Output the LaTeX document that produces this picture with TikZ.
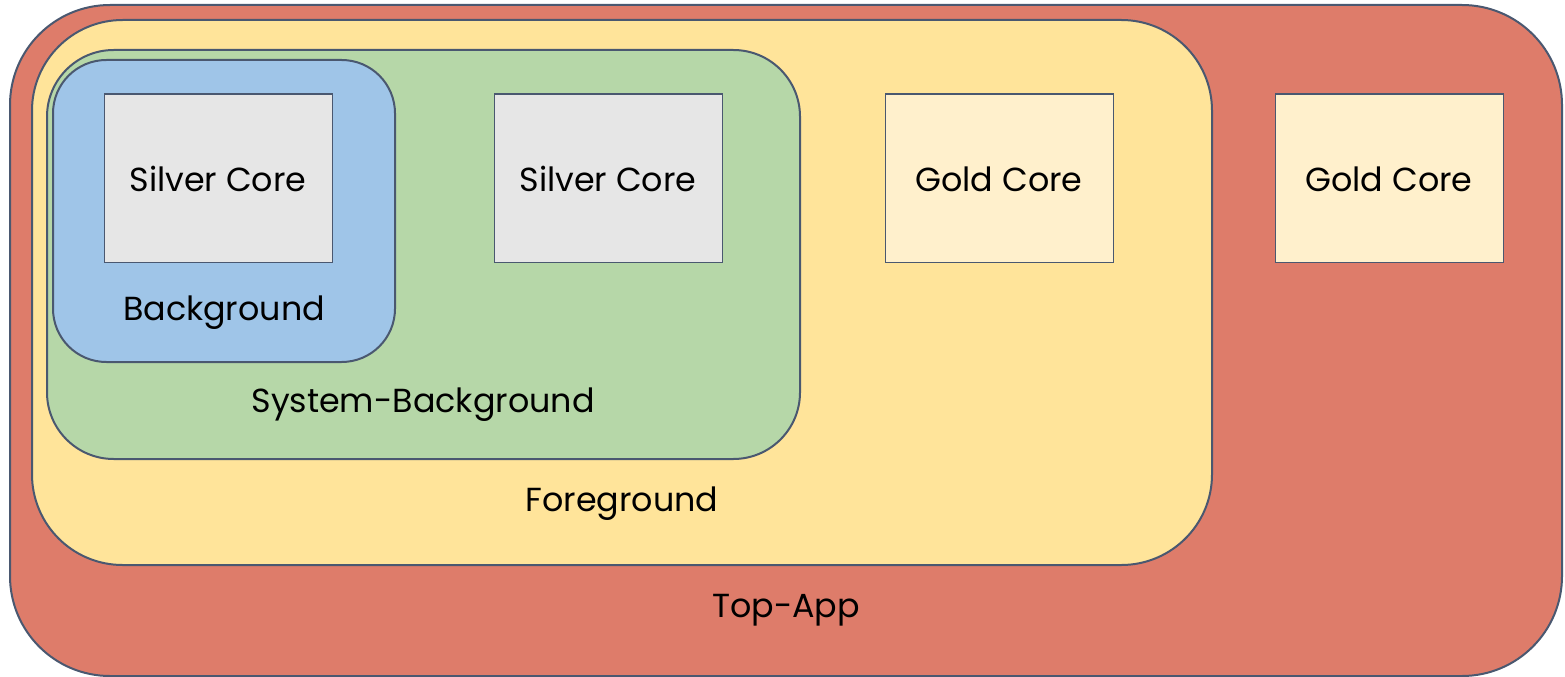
\documentclass[tikz,border=0pt]{standalone}
\usepackage{fontspec}
\setmainfont{Poppins}
\definecolor{edge}{HTML}{4A5870}
\definecolor{topapp}{HTML}{DE7C6A}
\definecolor{fore}{HTML}{FFE49A}
\definecolor{sysbg}{HTML}{B6D7A8}
\definecolor{bg}{HTML}{9FC5E8}
\definecolor{silver}{HTML}{E6E6E6}
\definecolor{gold}{HTML}{FFF0CC}
\tikzset{
  group/.style={draw=edge, line width=1.5pt},
  core/.style={draw=edge, line width=1.2pt, minimum width=171pt, minimum height=126pt,
    anchor=north west, inner sep=0pt},
  lbl/.style={font=\fontsize{25}{30}\selectfont, inner sep=0pt, text=black,
    text height=0.72em, text depth=0pt}
}
\begin{document}
\begin{tikzpicture}[x=0.75pt, y=-0.75pt]
  \useasboundingbox (0,0) rectangle (1565,677);
  % nested groups
  \draw[group, fill=topapp, rounded corners=75pt] (10,5) rectangle (1562,676);
  \draw[group, fill=fore, rounded corners=68pt] (32,20) rectangle (1212,565);
  \draw[group, fill=sysbg, rounded corners=50pt] (47,50) rectangle (800,459);
  \draw[group, fill=bg, rounded corners=40pt] (53,60) rectangle (395,362);
  % cores
  \node[core, fill=silver] (s1) at (103.5,93.5) {};
  \node[core, fill=silver] (s2) at (493.5,93.5) {};
  \node[core, fill=gold] (g1) at (884.5,93.5) {};
  \node[core, fill=gold] (g2) at (1274.5,93.5) {};
  \node[lbl] at (218,187) {Silver Core};
  \node[lbl] at (608,187) {Silver Core};
  \node[lbl] at (999,187) {Gold Core};
  \node[lbl] at (1389,187) {Gold Core};
  % group labels
  \node[lbl] (lbg) at (224,316) {Background};
  \node[lbl] (lsys) at (423,408) {System-Background};
  \node[lbl] (lfg) at (622,507) {Foreground};
  \node[lbl] (ltop) at (786,613) {Top-App};
\end{tikzpicture}
\end{document}
